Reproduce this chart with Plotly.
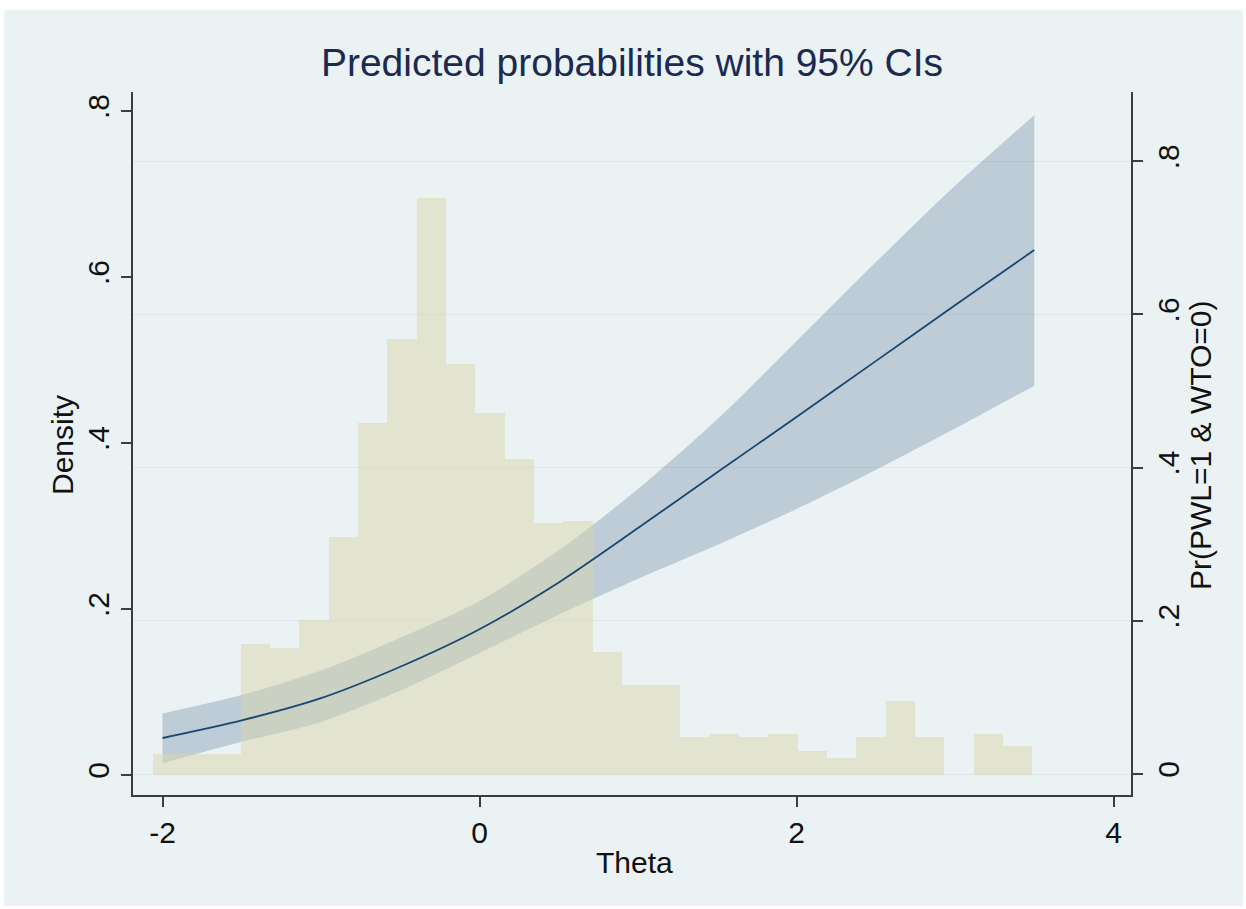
import plotly.graph_objects as go

# ---------------- data ----------------
hist_start = -2.062          # left edge of first histogram bin (Theta)
hist_width = 0.185           # histogram bin width (Theta)
density = [0.025, 0.025, 0.025, 0.158, 0.153, 0.187, 0.287, 0.424, 0.525, 0.695,
           0.495, 0.436, 0.381, 0.304, 0.306, 0.148, 0.109, 0.109, 0.046, 0.050,
           0.046, 0.049, 0.029, 0.020, 0.046, 0.089, 0.046, 0.0, 0.049, 0.035]
bin_centers = [hist_start + hist_width * (i + 0.5) for i in range(len(density))]

theta = [-2.0, -1.5, -1.0, -0.5, 0.0, 0.5, 1.0, 1.5, 2.0, 2.5, 3.0, 3.5]
pr    = [0.047, 0.070, 0.099, 0.140, 0.189, 0.250, 0.321, 0.394, 0.466, 0.539, 0.612, 0.684]
ci_hi = [0.079, 0.103, 0.135, 0.178, 0.226, 0.292, 0.372, 0.463, 0.565, 0.668, 0.768, 0.860]
ci_lo = [0.014, 0.042, 0.068, 0.109, 0.158, 0.208, 0.255, 0.299, 0.346, 0.397, 0.451, 0.507]

x_ticks = [-2, 0, 2, 4]
x_ticktext = ["-2", "0", "2", "4"]
y_ticks = [0, 0.2, 0.4, 0.6, 0.8]
y_ticktext = ["0", ".2", ".4", ".6", ".8"]

# ---------------- styling / layout ----------------
W, H = 1246, 909
L, R, T, B = 133, 1131, 92, 795   # plot area in pixels
pw, ph = R - L, B - T

FONT = "Liberation Sans, Arial, Helvetica, sans-serif"
AXC = "#3c3c3c"
BG = "#EAF2F3"

def px_to_paper_x(px):
    return (px - L) / pw

def px_to_paper_y(py):
    return (B - py) / ph

fig = go.Figure()

# CI band (probability axis)
fig.add_trace(go.Scatter(x=theta, y=ci_lo, mode="lines", line=dict(width=0, shape="spline", smoothing=0.8),
                         yaxis="y", showlegend=False, hoverinfo="skip"))
fig.add_trace(go.Scatter(x=theta, y=ci_hi, mode="lines", line=dict(width=0, shape="spline", smoothing=0.8),
                         fill="tonexty", fillcolor="rgba(45,82,125,0.24)",
                         yaxis="y", showlegend=False, hoverinfo="skip"))

# Histogram (density axis, drawn over the band)
fig.add_trace(go.Bar(x=bin_centers, y=density, width=hist_width, yaxis="y2",
                     marker=dict(color="rgba(217,213,173,0.5)", line=dict(width=0)),
                     showlegend=False))

# Predicted probability line (drawn on top)
fig.add_trace(go.Scatter(x=theta, y=pr, mode="lines",
                         line=dict(color="#1A476F", width=1.8, shape="spline", smoothing=0.8),
                         yaxis="y3", showlegend=False))

prob_range = [-(B - 774) / 766.0, (774 - T) / 766.0]
dens_range = [-(B - 775) / 830.0, (775 - T) / 830.0]

tickfont = dict(family=FONT, size=30, color="#111111")

fig.update_layout(
    width=W, height=H,
    margin=dict(l=L, r=W - R, t=T, b=H - B, pad=0),
    paper_bgcolor="white",
    plot_bgcolor="white",
    barmode="overlay", bargap=0,
    title=dict(text="Predicted probabilities with 95% CIs",
               font=dict(family=FONT, size=39, color="#1c2a52"),
               x=(L + R) / 2 / W, xanchor="center", xref="container",
               y=(H - 62) / H, yanchor="middle", yref="container"),
    xaxis=dict(range=[-2 - (162.5 - L) / 158.5, 4 + (R - 1113.5) / 158.5],
               tickvals=x_ticks, ticktext=x_ticktext, tickfont=tickfont,
               ticks="outside", ticklen=10, tickwidth=1.5, tickcolor=AXC,
               showline=True, linecolor=AXC, linewidth=1.5,
               showgrid=False, zeroline=False),
    yaxis=dict(range=prob_range, side="right",
               tickvals=y_ticks, ticktext=y_ticktext, tickangle=-90, tickfont=tickfont,
               ticks="outside", ticklen=10, tickwidth=1.5, tickcolor=AXC,
               showline=True, linecolor=AXC, linewidth=1.5,
               showgrid=True, gridcolor="#DFE7EA", gridwidth=1.2, zeroline=False),
    yaxis2=dict(range=dens_range, side="left", overlaying="y",
                tickvals=y_ticks, ticktext=y_ticktext, tickangle=-90, tickfont=tickfont,
                ticks="outside", ticklen=10, tickwidth=1.5, tickcolor=AXC,
                showline=True, linecolor=AXC, linewidth=1.5,
                showgrid=False, zeroline=False),
    yaxis3=dict(range=prob_range, overlaying="y", visible=False),
    shapes=[dict(type="rect", xref="paper", yref="paper", layer="below",
                 x0=px_to_paper_x(4), x1=px_to_paper_x(1243),
                 y0=px_to_paper_y(906), y1=px_to_paper_y(10),
                 fillcolor=BG, line=dict(width=0))],
    annotations=[
        dict(text="Density", xref="paper", yref="paper",
             x=px_to_paper_x(62), y=px_to_paper_y(445), textangle=-90,
             showarrow=False, xanchor="center", yanchor="middle",
             font=dict(family=FONT, size=30, color="#111111")),
        dict(text="Pr(PWL=1 & WTO=0)", xref="paper", yref="paper",
             x=px_to_paper_x(1200), y=px_to_paper_y(445), textangle=-90,
             showarrow=False, xanchor="center", yanchor="middle",
             font=dict(family=FONT, size=30, color="#111111")),
        dict(text="Theta", xref="paper", yref="paper",
             x=px_to_paper_x(634), y=px_to_paper_y(862),
             showarrow=False, xanchor="center", yanchor="middle",
             font=dict(family=FONT, size=30, color="#111111")),
    ],
)

fig.write_html("out.html")
